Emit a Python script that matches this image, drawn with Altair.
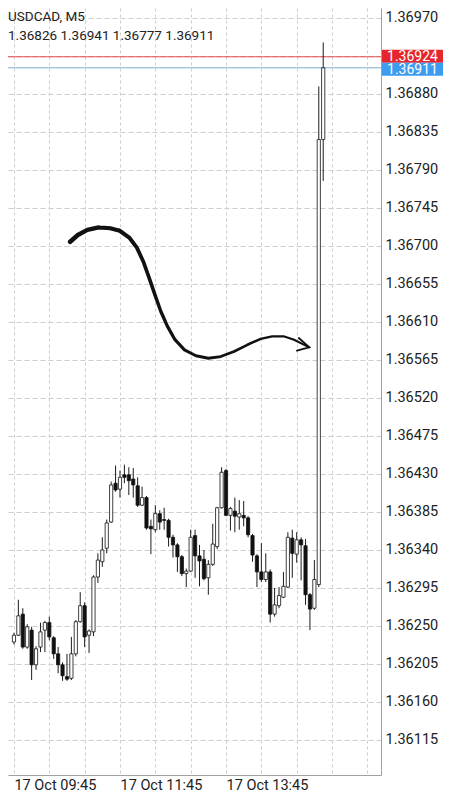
import altair as alt
import pandas as pd

symbol_title = "USDCAD, M5"
time_label_idx = [0, 24, 48]
time_labels = ["17 Oct 09:45", "17 Oct 11:45", "17 Oct 13:45"]
price_ticks = [1.36115, 1.36160, 1.36205, 1.36250, 1.36295, 1.36340, 1.36385,
               1.36430, 1.36475, 1.36520, 1.36565, 1.36610, 1.36655, 1.36700,
               1.36745, 1.36790, 1.36835, 1.36880, 1.36925, 1.36970]
grid_idx = [0, 8, 16, 24, 32, 40, 48, 56, 64, 72, 80]

opens = [1.36231, 1.36239, 1.36264, 1.36225, 1.36245, 1.36204, 1.36225, 1.36245, 1.36254, 1.36236,
         1.36217, 1.36204, 1.36190, 1.36188, 1.36217, 1.36255, 1.36274, 1.36239, 1.36243, 1.36308,
         1.36326, 1.36342, 1.36373, 1.36419, 1.36412, 1.36429, 1.36429, 1.36424, 1.36416, 1.36393,
         1.36402, 1.36368, 1.36364, 1.36383, 1.36376, 1.36375, 1.36355, 1.36346, 1.36332, 1.36312,
         1.36315, 1.36357, 1.36333, 1.36329, 1.36307, 1.36323, 1.36344, 1.36390, 1.36434, 1.36381,
         1.36386, 1.36379, 1.36381, 1.36378, 1.36357, 1.36333, 1.36314, 1.36305, 1.36314, 1.36264,
         1.36274, 1.36284, 1.36296, 1.36354, 1.36335, 1.36352, 1.36345, 1.36287, 1.36271, 1.36299,
         1.36826]
highs = [1.36242, 1.36281, 1.36271, 1.36252, 1.36249, 1.36226, 1.36254, 1.36256, 1.36261, 1.36238,
         1.36225, 1.36207, 1.36217, 1.36237, 1.36257, 1.36290, 1.36278, 1.36246, 1.36310, 1.36336,
         1.36355, 1.36376, 1.36421, 1.36440, 1.36434, 1.36441, 1.36438, 1.36437, 1.36426, 1.36415,
         1.36404, 1.36376, 1.36393, 1.36387, 1.36390, 1.36377, 1.36358, 1.36348, 1.36334, 1.36318,
         1.36364, 1.36364, 1.36346, 1.36340, 1.36328, 1.36371, 1.36391, 1.36438, 1.36436, 1.36391,
         1.36402, 1.36399, 1.36398, 1.36380, 1.36359, 1.36335, 1.36348, 1.36336, 1.36317, 1.36295,
         1.36296, 1.36314, 1.36361, 1.36364, 1.36361, 1.36355, 1.36353, 1.36289, 1.36328, 1.36889,
         1.36941]
lows = [1.36228, 1.36238, 1.36223, 1.36223, 1.36186, 1.36198, 1.36219, 1.36219, 1.36233, 1.36211,
        1.36194, 1.36185, 1.36185, 1.36186, 1.36214, 1.36254, 1.36225, 1.36218, 1.36238, 1.36301,
        1.36320, 1.36336, 1.36372, 1.36409, 1.36402, 1.36419, 1.36405, 1.36402, 1.36391, 1.36392,
        1.36364, 1.36335, 1.36361, 1.36364, 1.36364, 1.36344, 1.36331, 1.36314, 1.36309, 1.36296,
        1.36314, 1.36307, 1.36297, 1.36304, 1.36287, 1.36321, 1.36341, 1.36389, 1.36380, 1.36363,
        1.36361, 1.36364, 1.36368, 1.36355, 1.36326, 1.36296, 1.36302, 1.36302, 1.36254, 1.36261,
        1.36271, 1.36283, 1.36295, 1.36307, 1.36325, 1.36304, 1.36275, 1.36245, 1.36269, 1.36296,
        1.36777]
closes = [1.36239, 1.36262, 1.36225, 1.36249, 1.36204, 1.36223, 1.36243, 1.36254, 1.36237, 1.36217,
          1.36204, 1.36191, 1.36187, 1.36217, 1.36255, 1.36274, 1.36237, 1.36244, 1.36308, 1.36328,
          1.36340, 1.36372, 1.36417, 1.36411, 1.36426, 1.36426, 1.36422, 1.36417, 1.36393, 1.36402,
          1.36366, 1.36365, 1.36383, 1.36373, 1.36375, 1.36355, 1.36346, 1.36332, 1.36312, 1.36315,
          1.36355, 1.36333, 1.36327, 1.36306, 1.36323, 1.36347, 1.36390, 1.36432, 1.36381, 1.36389,
          1.36380, 1.36383, 1.36378, 1.36358, 1.36334, 1.36314, 1.36305, 1.36314, 1.36264, 1.36275,
          1.36286, 1.36297, 1.36355, 1.36336, 1.36352, 1.36346, 1.36287, 1.36270, 1.36305, 1.36826,
          1.36911]

ask_price = 1.36924
bid_price = 1.36911

# hand-drawn arrow annotation (candle index, price)
arrow_idx = [12.72, 14.45, 16.61, 19.19, 21.78, 23.94, 26.09, 27.82, 29.33, 30.62, 31.92, 33.21,
             34.72, 36.45, 38.60, 41.19, 43.99, 46.80, 49.82, 52.84, 55.86, 58.44, 61.03, 63.40, 66.85]
arrow_price = [1.36705, 1.36713, 1.36719, 1.36722, 1.36721, 1.36718, 1.36710, 1.36698, 1.36681,
               1.36662, 1.36642, 1.36623, 1.36605, 1.36589, 1.36577, 1.36570, 1.36567, 1.36569,
               1.36575, 1.36583, 1.36590, 1.36593, 1.36593, 1.36589, 1.36580]
head_idx = [64.48, 66.85, 64.05]
head_price = [1.36591, 1.36580, 1.36576]

W, H = 373, 767
x_dom = [-0.216, 81.95]
y_dom = [1.360735, 1.369818]

df = pd.DataFrame({"i": list(range(len(opens))), "open": opens, "high": highs,
                   "low": lows, "close": closes})

xs = alt.Scale(domain=x_dom, nice=False, zero=False)
ys = alt.Scale(domain=y_dom, nice=False, zero=False)

lab_expr = " : ".join(f"datum.value == {k} ? '{t}'" for k, t in zip(time_label_idx, time_labels)) + " : ''"
font = "Roboto"
xaxis = alt.Axis(values=grid_idx, grid=True, gridDash=[3, 3], gridColor="#cdcdcd", gridWidth=1,
                 labelExpr=lab_expr, labelAlign="left", labelBaseline="top", labelFont=font,
                 labelFontSize=14.5, labelColor="#222", ticks=False, labelPadding=3,
                 domainColor="#a0a0a0", labelOverlap=False, labelFlush=False, title=None)
yaxis = alt.Axis(orient="right", values=price_ticks, grid=True, gridDash=[5, 3],
                 gridColor="#cdcdcd", gridWidth=1,
                 labelExpr="format(datum.value, '.5f') == '1.36925' ? '' : format(datum.value, '.5f')",
                 labelFont=font, labelFontSize=14.5, labelColor="#222", ticks=False,
                 labelPadding=4, domainColor="#a0a0a0", labelOverlap=False, title=None)


def X(f):
    return alt.X(f, type="quantitative", scale=xs, axis=xaxis)


def Y(f):
    return alt.Y(f, type="quantitative", scale=ys, axis=yaxis)


base = alt.Chart(df)
wick = base.mark_rule(color="#1c1c1c", strokeWidth=1).encode(x=X("i"), y=Y("low"), y2="high")
body = base.mark_bar(width=3.2, stroke="#111", strokeWidth=0.8).encode(
    x=X("i"), y=Y("open"), y2="close",
    fill=alt.condition("datum.close >= datum.open", alt.value("white"), alt.value("#111")))

lines_df = pd.DataFrame({"p": [ask_price, bid_price], "c": ["#e0474c", "#7aaed0"]})
hlines = alt.Chart(lines_df).mark_rule(strokeWidth=1).encode(y=Y("p"), color=alt.Color("c:N", scale=None))

n = len(arrow_idx)
arrow_df = pd.DataFrame({"ax": arrow_idx, "ay": arrow_price, "k": list(range(n)),
                         "w": [4.6 - 2.6 * k / (n - 1) for k in range(n)]})
trail = alt.Chart(arrow_df).mark_trail(color="#111").encode(
    x=X("ax"), y=Y("ay"), order="k:Q", size=alt.Size("w:Q", scale=None, legend=None))

head_df = pd.DataFrame({"ax": head_idx, "ay": head_price, "k": [0, 1, 2]})
head = alt.Chart(head_df).mark_line(color="#111", strokeWidth=1.8, strokeCap="round").encode(
    x=X("ax"), y=Y("ay"), order="k:Q")

px = (y_dom[1] - y_dom[0]) / H  # price per pixel
box_layers = []
for p, col, up, down in [(ask_price, "#e5262d", 7.0, 6.0), (bid_price, "#3e9cf0", 5.0, 8.0)]:
    bdf = pd.DataFrame({"top": [p + up * px], "bot": [p - down * px],
                        "mid": [p + (up - down) / 2 * px], "t": [f"{p:.5f}"]})
    box_layers.append(alt.Chart(bdf).mark_rect(color=col).encode(
        x=alt.value(W + 1), x2=alt.value(W + 62), y=Y("top"), y2="bot"))
    box_layers.append(alt.Chart(bdf).mark_text(color="white", font=font, fontSize=14,
                                               align="center", baseline="middle", dy=0.5).encode(
        x=alt.value(W + 31.5), y=Y("mid"), text="t:N"))

ohlc_text = f"{opens[-1]:.5f} {highs[-1]:.5f} {lows[-1]:.5f} {closes[-1]:.5f}"
hdr_layers = []
for t, yy in [(symbol_title, 9), (ohlc_text, 28)]:
    hdr_layers.append(alt.Chart(pd.DataFrame({"t": [t]})).mark_text(
        align="left", baseline="middle", font=font, fontSize=13.5, color="#222").encode(
        x=alt.value(0), y=alt.value(yy), text="t:N"))

chart = alt.layer(hlines, wick, body, trail, head, *box_layers, *hdr_layers).properties(
    width=W, height=H,
    autosize=alt.AutoSizeParams(type="none"),
    padding={"left": 0, "top": 0, "right": 62, "bottom": 22},
).configure_view(stroke=None)

chart.save("out.html", embed_options={"renderer": "svg", "actions": False})
